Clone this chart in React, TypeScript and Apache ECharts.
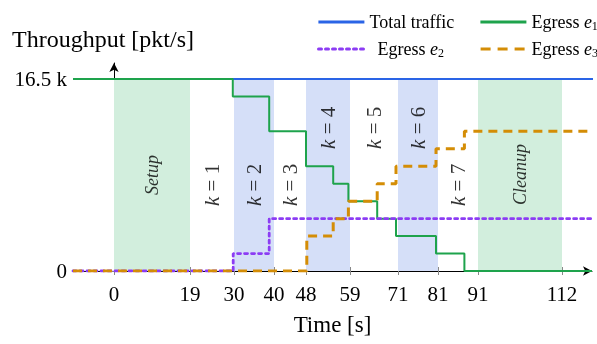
import React, { useEffect, useRef } from "react";
import * as echarts from "echarts";

// ---- data ----
const xTicks = [0, 19, 30, 40, 48, 59, 71, 81, 91, 112];
const yTicks = [0, 16500];
const yTickLabels = ["0", "16.5 k"];

const totalTimes = [-10.25, 121];
const totalValues = [16500, 16500];

const e1Times = [-10.25, 29.7, 38.8, 48, 54.8, 58.6, 65.8, 70.5, 80.5, 87.6, 119.5];
const e1Values = [16500, 15000, 12000, 9000, 7500, 6000, 4500, 3000, 1500, 0, 0];

const e2Times = [-10.25, 29.8, 38.8, 119.5];
const e2Values = [0, 1500, 4500, 4500];

const e3Times = [-10.25, 48.2, 54.8, 58.6, 65.8, 70.5, 80.5, 87.6, 119.5];
const e3Values = [0, 3000, 4500, 6000, 7500, 9000, 10500, 12000, 12000];

const setupBands = [[0, 19], [91, 112]];
const kBands = [[30, 40], [48, 59], [71, 81]];

const bandLabelNames = ["Setup", "k = 1", "k = 2", "k = 3", "k = 4", "k = 5", "k = 6", "k = 7", "Cleanup"];
const bandLabelX = [9.5, 24.5, 35, 44, 53.5, 65, 76, 86, 101.5];
const bandLabelY = [8250, 7400, 7400, 7400, 12300, 12300, 12300, 7400, 8300];

const seriesNames = ["Total traffic", "Egress e1", "Egress e2", "Egress e3"];

const FONT = "Liberation Serif";
const COLORS = ["#2a64e6", "#1ea34c", "#8c3cf4", "#d48d06"];

function zip(xs: number[], ys: number[]) {
  return xs.map((x, i) => [x, ys[i]]);
}

function legendFormatter(name: string) {
  const m = name.match(/^Egress e(\d)$/);
  if (m) return "Egress {i|e}{s|" + m[1] + "}";
  return name;
}

const legendRich = {
  i: { fontFamily: FONT, fontStyle: "italic", fontSize: 18, color: "#000" },
  s: { fontFamily: FONT, fontSize: 12, color: "#000", verticalAlign: "bottom", padding: [8, 0, 0, 0] },
};

export default function App() {
  const ref = useRef<HTMLDivElement>(null);
  useEffect(() => {
    if (!ref.current) return;
    const chart = echarts.init(ref.current, null, { renderer: "svg" });
    const xMin = -10.25;
    const xMax = 119.5;
    const yMax = 17875;

    const legendBase = {
      itemWidth: 46,
      itemHeight: 14,
      itemStyle: { opacity: 0 },
      formatter: legendFormatter,
      textStyle: { fontFamily: FONT, fontSize: 18, color: "#000", rich: legendRich },
    };

    const option: any = {
      animation: false,
      textStyle: { fontFamily: FONT },
      grid: { left: 73, top: 63, width: 519, height: 208, containLabel: false },
      legend: [
        { ...legendBase, data: [seriesNames[0]], left: 312, top: 8, lineStyle: { width: 2.8 } },
        { ...legendBase, data: [seriesNames[1]], left: 474, top: 8, lineStyle: { width: 2.8 } },
        {
          ...legendBase,
          data: [seriesNames[2]],
          left: 312,
          top: 35,
          lineStyle: { width: 3 },
          textStyle: { ...legendBase.textStyle, padding: [0, 0, 0, 8] },
        },
        { ...legendBase, data: [seriesNames[3]], left: 474, top: 35, lineStyle: { width: 3.2, type: [10, 7] } },
      ],
      xAxis: [
        {
          type: "value",
          min: xMin,
          max: xMax,
          name: "Time [s]",
          nameLocation: "middle",
          nameGap: 42,
          nameTextStyle: { fontFamily: FONT, fontSize: 23, color: "#000" },
          axisLine: {
            show: true,
            symbol: ["none", "arrow"],
            symbolSize: [7, 9],
            lineStyle: { color: "#000", width: 1 },
          },
          axisTick: { show: true, customValues: xTicks, length: 4, lineStyle: { color: "#888", width: 1 } },
          axisLabel: { customValues: xTicks, fontFamily: FONT, fontSize: 21, color: "#000", margin: 12 },
          splitLine: { show: false },
        },
        {
          type: "value",
          min: xMin,
          max: xMax,
          position: "bottom",
          axisLine: { show: false },
          axisTick: { show: true, inside: true, customValues: xTicks, length: 4, lineStyle: { color: "#888", width: 1 } },
          axisLabel: { show: false },
          splitLine: { show: false },
        },
      ],
      yAxis: {
        type: "value",
        min: 0,
        max: yMax,
        axisLine: {
          show: true,
          symbol: ["none", "arrow"],
          symbolSize: [7, 9],
          lineStyle: { color: "#000", width: 1 },
        },
        axisTick: { show: true, customValues: yTicks, length: 4, lineStyle: { color: "#888", width: 1 } },
        axisLabel: {
          customValues: yTicks,
          fontFamily: FONT,
          fontSize: 21,
          color: "#000",
          margin: 6,
          formatter: (v: number) => yTickLabels[yTicks.indexOf(v)] ?? "",
        },
        splitLine: { show: false },
      },
      graphic: [
        {
          type: "text",
          left: 12,
          top: 27,
          style: { text: "Throughput [pkt/s]", fontFamily: FONT, fontSize: 24, fill: "#000" },
        },
      ],
      series: [
        {
          name: "bands",
          type: "line",
          data: [],
          silent: true,
          z: 1,
          markArea: {
            silent: true,
            data: [
              ...setupBands.map(([a, b]) => [
                { xAxis: a, yAxis: 0, itemStyle: { color: "#d2eedd" } },
                { xAxis: b, yAxis: 16500 },
              ]),
              ...kBands.map(([a, b]) => [
                { xAxis: a, yAxis: 0, itemStyle: { color: "#d5dff8" } },
                { xAxis: b, yAxis: 16500 },
              ]),
            ],
          },
        },
        {
          name: "labels",
          type: "scatter",
          symbolSize: 1,
          itemStyle: { color: "rgba(0,0,0,0)" },
          silent: true,
          z: 3,
          data: bandLabelNames.map((n, i) => ({ name: n, value: [bandLabelX[i], bandLabelY[i]] })),
          label: {
            show: true,
            position: "inside",
            rotate: 90,
            align: "center",
            verticalAlign: "middle",
            fontFamily: FONT,
            fontSize: 21,
            color: "#000",
            formatter: (p: any) => {
              const n: string = p.name;
              if (n.startsWith("k")) return "{i|k} = " + n.slice(4);
              return "{it|" + n + "}";
            },
            rich: {
              i: { fontFamily: FONT, fontStyle: "italic", fontSize: 21, color: "#000" },
              it: { fontFamily: FONT, fontStyle: "italic", fontSize: 18, color: "#000" },
            },
          },
        },
        {
          name: seriesNames[0],
          type: "line",
          data: zip(totalTimes, totalValues),
          showSymbol: false,
          symbol: "none",
          clip: false,
          color: COLORS[0],
          lineStyle: { color: COLORS[0], width: 2 },
          z: 4,
        },
        {
          name: seriesNames[1],
          type: "line",
          step: "end",
          data: zip(e1Times, e1Values),
          showSymbol: false,
          symbol: "none",
          color: COLORS[1],
          lineStyle: { color: COLORS[1], width: 2 },
          z: 5,
        },
        {
          name: seriesNames[2],
          type: "line",
          step: "end",
          data: zip(e2Times, e2Values),
          showSymbol: false,
          symbol: "none",
          color: COLORS[2],
          lineStyle: { color: COLORS[2], width: 2.8, type: [3, 4], cap: "round" },
          z: 6,
        },
        {
          name: seriesNames[3],
          type: "line",
          step: "end",
          data: zip(e3Times, e3Values),
          showSymbol: false,
          symbol: "none",
          color: COLORS[3],
          lineStyle: { color: COLORS[3], width: 3, type: [9, 6] },
          z: 7,
        },
      ],
    };
    chart.setOption(option);
    return () => chart.dispose();
  }, []);
  return (
    <div
      ref={ref}
      style={{ position: "fixed", left: 0, top: 0, width: 597, height: 344 }}
    />
  );
}
